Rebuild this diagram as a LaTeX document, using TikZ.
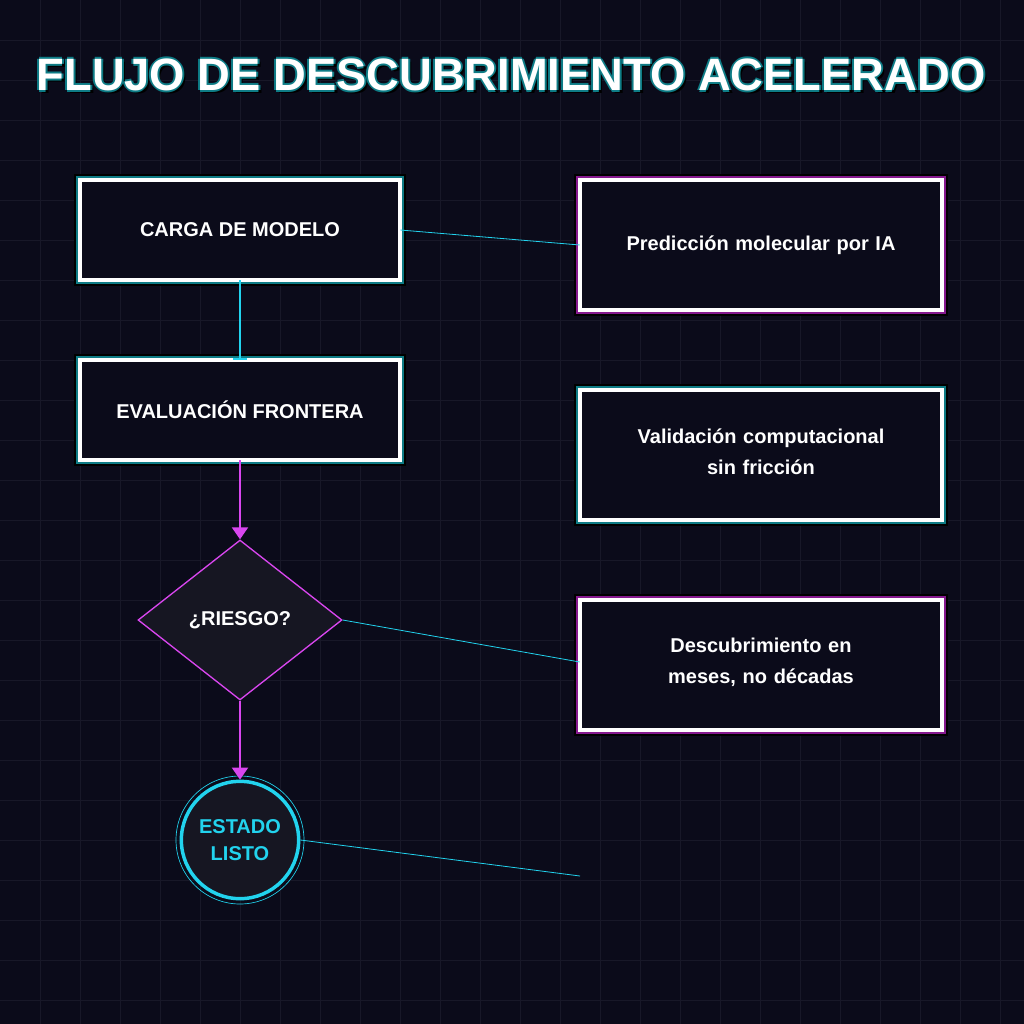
\documentclass[tikz,border=0pt]{standalone}
\usepackage{fontspec}
\setmainfont{Liberation Sans}
\usetikzlibrary{arrows.meta,shapes.geometric}
\definecolor{bg}{HTML}{0B0B1A}
\definecolor{gridc}{HTML}{181828}
\definecolor{cy}{HTML}{22D3EE}
\definecolor{mg}{HTML}{D946EF}
\definecolor{teal}{HTML}{0E7C86}
\definecolor{plum}{HTML}{86198F}
\definecolor{dfill}{HTML}{161622}
\newcommand{\nohyph}{\hyphenpenalty=10000\relax\exhyphenpenalty=10000\relax}
\tikzset{
 lbl/.style={text=white,font=\bfseries\fontsize{15}{23}\selectfont\nohyph,align=center},
 conn/.style={cy,line width=0.6pt},
 ttl/.style={font=\bfseries\fontsize{34}{40}\selectfont},
}
\begin{document}
\begin{tikzpicture}[x=0.75pt,y=-0.75pt]
\useasboundingbox (0,0) rectangle (1024,1024);
\fill[bg] (0,0) rectangle (1024,1024);
\foreach \i in {40,80,...,1000}{\draw[gridc,line width=0.7pt] (\i,0)--(\i,1024); \draw[gridc,line width=0.7pt] (0,\i)--(1024,\i);}
% title
\node[text=black,ttl] at (514,78) {FLUJO DE DESCUBRIMIENTO ACELERADO};
\foreach \dx/\dy in {-2/0,2/0,0/-2,0/2}
 \node[text=teal,ttl] at (511+\dx,75+\dy) {FLUJO DE DESCUBRIMIENTO ACELERADO};
\node[text=white,ttl] (title) at (511,75) {FLUJO DE DESCUBRIMIENTO ACELERADO};
\newcommand{\glowbox}[5]{%
 \fill[black] (#1-6,#2-6) rectangle (#3+6,#4+6);
 \fill[#5] (#1-4,#2-4) rectangle (#3+4,#4+4);
 \draw[white,line width=2.6pt,fill=bg] (#1,#2) rectangle (#3,#4);}
\glowbox{80}{180}{400}{280}{teal}
\glowbox{580}{180}{942}{310}{plum}
\glowbox{80}{360}{400}{460}{teal}
\glowbox{580}{390}{942}{520}{teal}
\glowbox{580}{600}{942}{730}{plum}
\node[lbl,minimum width=240pt,minimum height=75pt] (carga) at (240,230) {CARGA DE MODELO};
\node[lbl,minimum width=271.5pt,minimum height=97.5pt,text width=240pt] (pred) at (761,245) {Predicción molecular por IA};
\node[lbl,minimum width=240pt,minimum height=75pt] (eval) at (240,410) {EVALUACIÓN FRONTERA};
\node[lbl,minimum width=271.5pt,minimum height=97.5pt,text width=240pt] (val) at (761,452) {Validación computacional sin fricción};
\node[lbl,minimum width=271.5pt,minimum height=97.5pt,text width=240pt] (desc) at (761,662) {Descubrimiento en meses, no décadas};
\node[diamond,draw=mg,fill=dfill,line width=1pt,minimum width=153pt,minimum height=120pt,inner sep=0pt,text=white,font=\bfseries\fontsize{15}{22}\selectfont] (risk) at (240,620) {¿RIESGO?};
\draw[cy,line width=0.5pt] (240,840) circle (48pt);
\node[circle,draw=cy,fill=dfill,line width=2.6pt,minimum size=88pt,text=cy,align=center,font=\bfseries\fontsize{15}{20}\selectfont] (done) at (240,840) {ESTADO\\LISTO};
\coordinate (free) at (580,876);
\draw[cy,line width=1.6pt,-{Bar[width=10pt]}] (carga.south) -- (eval.north);
\draw[mg,line width=1.6pt,-{Triangle[width=12pt,length=9pt]}] (eval.south) -- (risk.north);
\draw[mg,line width=1.6pt,-{Triangle[width=12pt,length=9pt]}] (risk.south) -- (done.north);
\draw[conn] (carga.east) -- (pred.west);
\draw[conn] (risk.east) -- (desc.west);
\draw[conn] (done.east) -- (free);
\end{tikzpicture}
\end{document}
